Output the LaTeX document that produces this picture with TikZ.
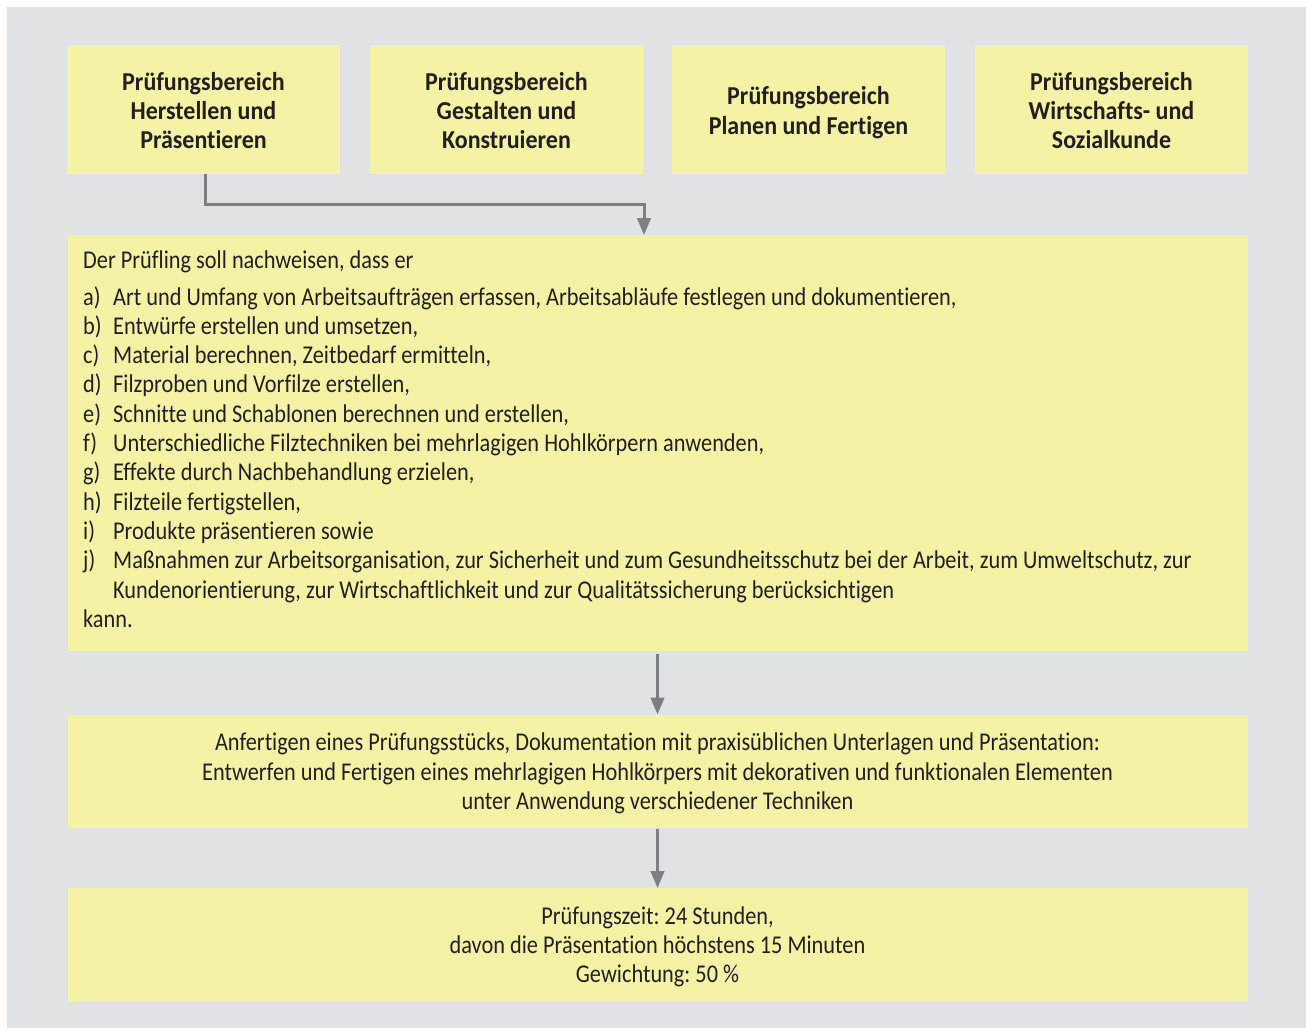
\documentclass[tikz,border=0pt]{standalone}
\usepackage{fontspec}
\setmainfont{Carlito}[FakeStretch=0.872, Ligatures=NoCommon, BoldFeatures={FakeStretch=0.93}]
\usetikzlibrary{arrows.meta}
\definecolor{bggray}{HTML}{E1E2E4}
\definecolor{boxyellow}{HTML}{F4F3A5}
\definecolor{arrowgray}{HTML}{7E7F83}
\definecolor{txt}{HTML}{231F20}
\tikzset{
  ybox/.style={fill=boxyellow, draw=none, inner sep=0pt, outer sep=0pt, anchor=north west},
  lline/.style={anchor=base west, inner sep=0pt, text=txt, font=\fontsize{25.6}{29.3}\selectfont\frenchspacing},
  cline/.style={anchor=base, inner sep=0pt, text=txt, font=\fontsize{25.6}{29.3}\selectfont\frenchspacing},
  hline/.style={anchor=base, inner sep=0pt, text=txt, font=\fontsize{25.8}{29.3}\selectfont\bfseries},
  conn/.style={draw=arrowgray, line width=3pt, -{Triangle[width=13.5pt,length=17pt]}}
}
\begin{document}
\begin{tikzpicture}[x=1pt,y=-1pt]
\useasboundingbox (0,0) rectangle (1306,1028);
\fill[white] (0,0) rectangle (1306,1028);
\fill[bggray] (7,7) rectangle (1306,1028);
% top boxes
\node[ybox, minimum width=273pt, minimum height=128.5pt] (b1) at (67,45) {};
\node[ybox, minimum width=273pt, minimum height=128.5pt] (b2) at (370,45) {};
\node[ybox, minimum width=273pt, minimum height=128.5pt] (b3) at (672,45) {};
\node[ybox, minimum width=273pt, minimum height=128.5pt] (b4) at (975,45) {};
\node[hline] (b1l1) at (203.5,90) {Prüfungsbereich};
\node[hline] (b1l2) at (203.5,119) {Herstellen und};
\node[hline] (b1l3) at (203.5,148) {Präsentieren};
\node[hline] (b2l1) at (506.5,90) {Prüfungsbereich};
\node[hline] (b2l2) at (506.5,119) {Gestalten und};
\node[hline] (b2l3) at (506.5,148) {Konstruieren};
\node[hline] (b3l1) at (808.5,104.5) {Prüfungsbereich};
\node[hline] (b3l2) at (808.5,134) {Planen und Fertigen};
\node[hline] (b4l1) at (1111.5,90) {Prüfungsbereich};
\node[hline] (b4l2) at (1111.5,119) {Wirtschafts- und};
\node[hline] (b4l3) at (1111.5,148) {Sozialkunde};
% main box
\node[ybox, minimum width=1180pt, minimum height=416pt] (main) at (68,235) {};
\node[lline] (intro) at (83,268.3) {Der Prüfling soll nachweisen, dass er};
\node[lline] (la) at (83,305) {a)};
\node[lline] (ta) at (113,305) {Art und Umfang von Arbeitsaufträgen erfassen, Arbeitsabläufe festlegen und dokumentieren,};
\node[lline] (lb) at (83,334.3) {b)};
\node[lline] (tb) at (113,334.3) {Entwürfe erstellen und umsetzen,};
\node[lline] (lc) at (83,363.6) {c)};
\node[lline] (tc) at (113,363.6) {Material berechnen, Zeitbedarf ermitteln,};
\node[lline] (ld) at (83,392.9) {d)};
\node[lline] (td) at (113,392.9) {Filzproben und Vorfilze erstellen,};
\node[lline] (le) at (83,422.2) {e)};
\node[lline] (te) at (113,422.2) {Schnitte und Schablonen berechnen und erstellen,};
\node[lline] (lf) at (83,451.5) {f)};
\node[lline] (tf) at (113,451.5) {Unterschiedliche Filztechniken bei mehrlagigen Hohlkörpern anwenden,};
\node[lline] (lg) at (83,480.8) {g)};
\node[lline] (tg) at (113,480.8) {Effekte durch Nachbehandlung erzielen,};
\node[lline] (lh) at (83,510.1) {h)};
\node[lline] (th) at (113,510.1) {Filzteile fertigstellen,};
\node[lline] (li) at (83,539.4) {i)};
\node[lline] (ti) at (113,539.4) {Produkte präsentieren sowie};
\node[lline] (lj) at (83,568.7) {j)};
\node[lline] (tj) at (113,568.7) {Maßnahmen zur Arbeitsorganisation, zur Sicherheit und zum Gesundheitsschutz bei der Arbeit, zum Umweltschutz, zur};
\node[lline] (tj2) at (113,598) {Kundenorientierung, zur Wirtschaftlichkeit und zur Qualitätssicherung berücksichtigen};
\node[lline] (kann) at (83,627.3) {kann.};
% task box
\node[ybox, minimum width=1180pt, minimum height=113pt] (proc) at (68,714.5) {};
\node[cline] (p1) at (657.5,750.7) {Anfertigen eines Prüfungsstücks, Dokumentation mit praxisüblichen Unterlagen und Präsentation:};
\node[cline] (p2) at (657.5,780) {Entwerfen und Fertigen eines mehrlagigen Hohlkörpers mit dekorativen und funktionalen Elementen};
\node[cline] (p3) at (657.5,809.3) {unter Anwendung verschiedener Techniken};
% result box
\node[ybox, minimum width=1180pt, minimum height=113.5pt] (res) at (68,888) {};
\node[cline] (r1) at (657.5,924.3) {Prüfungszeit: 24 Stunden,};
\node[cline] (r2) at (657.5,953.3) {davon die Präsentation höchstens 15 Minuten};
\node[cline] (r3) at (657.5,982.3) {Gewichtung: 50 \%};
% connectors
\draw[conn] ([xshift=1.5pt]b1.south) -- ++(0,30.5) -| ([xshift=-14pt]main.north);
\draw[conn, shorten <=3pt] ([xshift=-0.5pt]main.south) -- ([xshift=-0.5pt]proc.north);
\draw[conn, shorten <=1pt] ([xshift=-0.5pt]proc.south) -- ([xshift=-0.5pt]res.north);
\end{tikzpicture}
\end{document}
